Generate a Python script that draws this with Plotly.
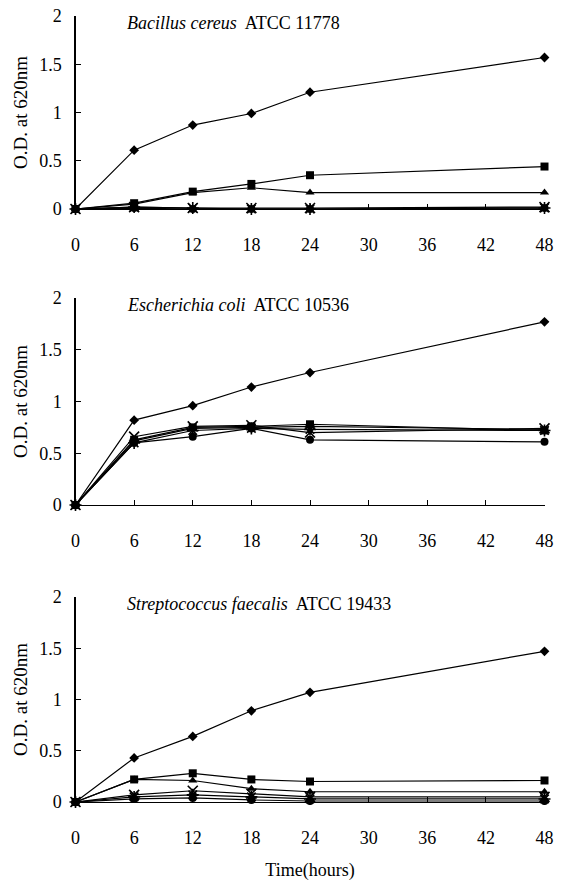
import plotly.graph_objects as go

hours = [0, 6, 12, 18, 24, 48]
x_ticks = [0, 6, 12, 18, 24, 30, 36, 42, 48]
y_ticks = [0, 0.5, 1, 1.5, 2]
y_tick_labels = ["0", "0.5", "1", "1.5", "2"]

# Bacillus cereus ATCC 11778
bc_diamond = [0, 0.61, 0.87, 0.99, 1.21, 1.57]
bc_square = [0, 0.06, 0.18, 0.26, 0.35, 0.44]
bc_triangle = [0, 0.05, 0.17, 0.22, 0.17, 0.17]
bc_x = [0, 0.02, 0.01, 0.01, 0.01, 0.02]
bc_star = [0, 0.02, 0.01, 0.0, 0.0, 0.01]
bc_circle = [0, 0.01, 0.0, 0.0, 0.0, 0.01]

# Escherichia coli ATCC 10536
ec_diamond = [0, 0.82, 0.96, 1.14, 1.28, 1.77]
ec_square = [0, 0.63, 0.75, 0.76, 0.78, 0.72]
ec_triangle = [0, 0.62, 0.74, 0.75, 0.76, 0.73]
ec_x = [0, 0.66, 0.76, 0.77, 0.70, 0.74]
ec_star = [0, 0.60, 0.72, 0.74, 0.73, 0.72]
ec_circle = [0, 0.60, 0.66, 0.74, 0.63, 0.61]

# Streptococcus faecalis ATCC 19433
sf_diamond = [0, 0.43, 0.64, 0.89, 1.07, 1.47]
sf_square = [0, 0.22, 0.28, 0.22, 0.20, 0.21]
sf_triangle = [0, 0.22, 0.21, 0.13, 0.10, 0.10]
sf_x = [0, 0.07, 0.11, 0.08, 0.05, 0.05]
sf_star = [0, 0.05, 0.07, 0.05, 0.03, 0.03]
sf_circle = [0, 0.03, 0.04, 0.02, 0.01, 0.01]

panels = [
    ("Bacillus cereus", "ATCC 11778",
     [bc_diamond, bc_square, bc_triangle, bc_x, bc_star, bc_circle]),
    ("Escherichia coli", "ATCC 10536",
     [ec_diamond, ec_square, ec_triangle, ec_x, ec_star, ec_circle]),
    ("Streptococcus faecalis", "ATCC 19433",
     [sf_diamond, sf_square, sf_triangle, sf_x, sf_star, sf_circle]),
]

W, H = 567, 881
# pixel positions of y=0 and y=2 for each panel
panel_px = [(209, 16), (505, 298), (802, 597)]
x0_px, x48_px = 75.5, 544.5

markers = [
    dict(symbol="diamond", size=7.5, color="black"),
    dict(symbol="square", size=8, color="black"),
    dict(symbol="triangle-up", size=8, color="black"),
    dict(symbol="x-thin-open", size=10, color="black", line=dict(width=1.6, color="black")),
    dict(symbol="asterisk-open", size=10, color="black", line=dict(width=1.6, color="black")),
    dict(symbol="circle", size=8, color="black"),
]

serif = "Liberation Serif"
fsize = 18

fig = go.Figure()
layout = dict(
    width=W, height=H,
    margin=dict(l=0, r=0, t=0, b=0, autoexpand=False),
    paper_bgcolor="white", plot_bgcolor="white",
    showlegend=False,
    font=dict(family=serif, size=fsize, color="black"),
)
annotations = []
for i, (species, strain, series) in enumerate(panels):
    xa = "x" if i == 0 else f"x{i+1}"
    ya = "y" if i == 0 else f"y{i+1}"
    for s, mk in zip(series, markers):
        fig.add_trace(go.Scatter(
            x=hours, y=s, mode="lines+markers",
            line=dict(color="black", width=1.2),
            marker=mk, cliponaxis=False,
            xaxis=xa, yaxis=ya,
        ))
    y0p, y2p = panel_px[i]
    dom_y = [1 - y0p / H, 1 - y2p / H]
    dom_x = [x0_px / W, x48_px / W]
    xkey = "xaxis" if i == 0 else f"xaxis{i+1}"
    ykey = "yaxis" if i == 0 else f"yaxis{i+1}"
    layout[xkey] = dict(
        domain=dom_x, range=[0, 48], anchor=ya, automargin=False,
        tickvals=x_ticks, ticktext=[str(v) for v in x_ticks],
        ticks="inside", ticklen=5, tickcolor="black",
        showline=True, linecolor="black", linewidth=1.2,
        showgrid=False, zeroline=False,
        ticklabelstandoff=19,
        tickfont=dict(family=serif, size=fsize, color="black"),
        title=dict(text="Time(hours)" if i == 2 else "",
                   font=dict(family=serif, size=fsize, color="black"), standoff=18),
    )
    layout[ykey] = dict(
        domain=dom_y, range=[0, 2], anchor=xa, automargin=False,
        tickvals=y_ticks, ticktext=y_tick_labels,
        ticks="inside", ticklen=5, tickcolor="black",
        showline=True, linecolor="black", linewidth=1.2,
        showgrid=False, zeroline=False,
        ticklabelstandoff=9,
        tickfont=dict(family=serif, size=fsize, color="black"),
        title=dict(text="O.D. at 620nm",
                   font=dict(family=serif, size=19, color="black"), standoff=6),
    )
    annotations.append(dict(
        text=f"<i>{species}</i>  {strain}",
        xref="paper", yref="paper",
        x=125 / W, y=1 - (y2p + 7) / H,
        xanchor="left", yanchor="middle", showarrow=False,
        font=dict(family=serif, size=18, color="black"),
    ))
layout["annotations"] = annotations
fig.update_layout(**layout)
fig.write_html(
    "out.html",
    config={"displayModeBar": False, "staticPlot": True},
    post_script="document.body.style.margin='0';document.body.style.overflow='hidden';",
)
